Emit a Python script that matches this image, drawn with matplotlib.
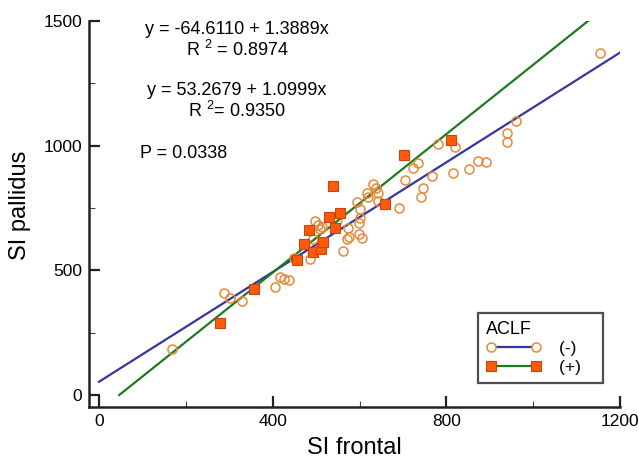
import matplotlib
matplotlib.use("Agg")
import matplotlib.pyplot as plt
from matplotlib.lines import Line2D
import numpy as np

plt.rcParams['font.family'] = ['Liberation Sans', 'DejaVu Sans']
plt.rcParams['mathtext.fontset'] = 'custom'
plt.rcParams['mathtext.rm'] = 'Liberation Sans'
plt.rcParams['mathtext.it'] = 'Liberation Sans:italic'

# ACLF (-) : open circles
neg_x = [167, 288, 302, 329, 406, 417, 425, 437, 448, 487, 563, 494, 572, 575, 605,
         498, 504, 509, 513, 548, 573, 598, 600, 602, 594, 617, 620, 630, 642, 642,
         638, 692, 705, 742, 746, 767, 780, 821, 724, 734, 815, 853, 873, 892, 940,
         940, 961, 1155, 598]
neg_y = [183, 409, 389, 378, 434, 475, 467, 461, 550, 544, 576, 625, 626, 634, 631,
         698, 681, 664, 673, 702, 670, 690, 710, 744, 773, 812, 794, 848, 812, 778,
         832, 752, 863, 796, 832, 879, 1007, 996, 911, 929, 890, 906, 940, 935, 1051,
         1014, 1100, 1373, 644]

# ACLF (+) : filled squares
pos_x = [279, 357, 455, 473, 494, 512, 516, 484, 529, 543, 554, 539, 659, 702, 811]
pos_y = [290, 425, 542, 604, 575, 584, 615, 662, 713, 671, 730, 838, 765, 961, 1024]

# regression coefficients (intercept, slope)
neg_fit = (53.2679, 1.0999)
pos_fit = (-64.6110, 1.3889)

eq_texts = ["y = -64.6110 + 1.3889x", "R $^{2}$ = 0.8974",
            "y = 53.2679 + 1.0999x", "R $^{2}$= 0.9350"]
p_text = "P = 0.0338"

xticks = [0, 400, 800, 1200]
yticks = [0, 500, 1000, 1500]

blue = '#36369e'
green = '#1e7a1e'
circ_col = '#e8883a'
sq_face = '#ff5a0a'
sq_edge = '#c84410'

fig = plt.figure(figsize=(6.39, 4.66), dpi=100)
ax = fig.add_axes([0.1393, 0.1266, 0.8310, 0.8284])

def seg(b, m, xmin=0, xmax=1200, ymin=0, ymax=1500):
    x0 = max(xmin, (ymin - b) / m)
    x1 = min(xmax, (ymax - b) / m)
    xs = np.array([x0, x1])
    return xs, b + m * xs

xs, ys = seg(*neg_fit)
ax.plot(xs, ys, color=blue, lw=1.6, zorder=2)
xs, ys = seg(*pos_fit)
ax.plot(xs, ys, color=green, lw=1.6, zorder=2)

ax.plot(neg_x, neg_y, 'o', ms=6.5, mfc='none', mec=circ_col, mew=1.1, zorder=3)
ax.plot(pos_x, pos_y, 's', ms=7, mfc=sq_face, mec=sq_edge, mew=0.8, zorder=4)

ax.set_xlim(-23, 1200)
ax.set_ylim(-48, 1500)
ax.set_xticks(xticks)
ax.set_yticks(yticks)
ax.set_xticks([200, 600, 1000], minor=True)
ax.set_yticks([250, 750, 1250], minor=True)
ax.tick_params(which='major', direction='in', length=8, width=1.6, labelsize=12.5,
               pad=5, color='#222222')
ax.tick_params(which='minor', direction='in', length=4, width=0.8, color='#444444')
for s in ['top', 'right']:
    ax.spines[s].set_visible(False)
for s in ['left', 'bottom']:
    ax.spines[s].set_linewidth(1.8)
    ax.spines[s].set_color('#222222')

ax.set_xlabel("SI frontal", fontsize=17, labelpad=6)
ax.set_ylabel("SI pallidus", fontsize=17)
ax.yaxis.set_label_coords(-0.11, 0.523)

fs = 13
ax.text(318, 1467, eq_texts[0], ha='center', va='center', fontsize=fs)
ax.text(318, 1384, eq_texts[1], ha='center', va='center', fontsize=fs)
ax.text(318, 1222, eq_texts[2], ha='center', va='center', fontsize=fs)
ax.text(318, 1140, eq_texts[3], ha='center', va='center', fontsize=fs)
ax.text(94, 968, p_text, ha='left', va='center', fontsize=fs)

handles = [
    Line2D([0], [0], color=blue, lw=1.6, marker='o', ms=6.5, mfc='white', mec=circ_col, mew=1.1),
    Line2D([0], [0], color=green, lw=1.6, marker='s', ms=7, mfc=sq_face, mec=sq_edge, mew=0.8),
]
leg = ax.legend(handles, ["(-)   ", "(+)   "], title="ACLF", loc='upper left',
                bbox_to_anchor=(0.7326, 0.2435), borderaxespad=0, numpoints=2,
                fancybox=False, edgecolor='#222222', fontsize=12.5, title_fontsize=13,
                handlelength=3.2, borderpad=0.45, labelspacing=0.2,
                handletextpad=1.0, alignment='left')
leg.get_frame().set_linewidth(1.6)

fig.savefig("out.png", dpi=100)
